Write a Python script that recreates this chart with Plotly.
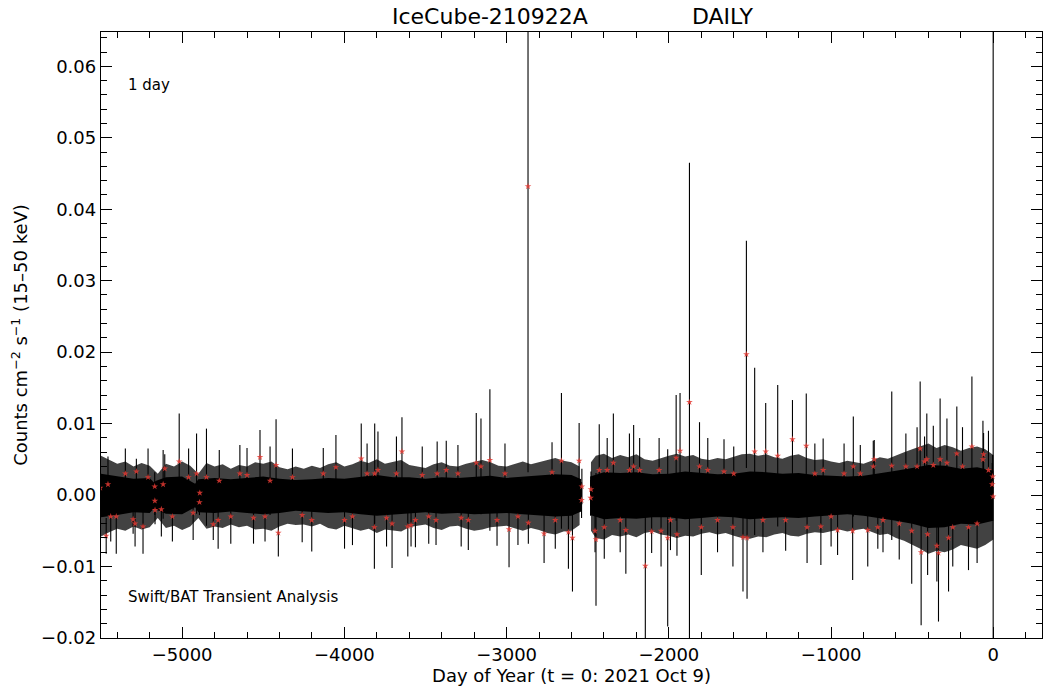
import plotly.graph_objects as go

# ---------------- data ----------------
# solid core of the dense daily band (100-day resolution, None = data gap)
core_day = [-5500, -5400, -5300, -5200, -5175, -5160, -5100, -5000, -4920, -4900,
            -4800, -4700, -4600, -4500, -4400, -4300, -4200, -4100, -4000, -3900,
            -3800, -3700, -3600, -3500, -3400, -3300, -3200, -3100, -3000, -2900,
            -2800, -2700, -2600, -2540, None,
            -2485, -2400, -2300, -2200, -2100, -2000, -1900, -1800, -1700, -1600,
            -1500, -1400, -1300, -1200, -1100, -1000, -900, -800, -700, -600,
            -500, -400, -300, -200, -100, 0]
core_hi = [0.0030, 0.0027, 0.0023, 0.0024, 0.0018, 0.0020, 0.0025, 0.0026, 0.0016, 0.0022,
           0.0024, 0.0022, 0.0024, 0.0026, 0.0023, 0.0021, 0.0022, 0.0024, 0.0023, 0.0026,
           0.0028, 0.0025, 0.0025, 0.0023, 0.0025, 0.0024, 0.0026, 0.0027, 0.0024, 0.0026,
           0.0027, 0.0029, 0.0028, 0.0022, None,
           0.0026, 0.0032, 0.0031, 0.0032, 0.0029, 0.0030, 0.0033, 0.0031, 0.0029, 0.0030,
           0.0033, 0.0032, 0.0030, 0.0031, 0.0028, 0.0027, 0.0026, 0.0027, 0.0030, 0.0034,
           0.0038, 0.0042, 0.0041, 0.0037, 0.0039, 0.0034]
core_lo = [-0.0031, -0.0028, -0.0024, -0.0025, -0.0019, -0.0021, -0.0026, -0.0027, -0.0017, -0.0024,
           -0.0025, -0.0023, -0.0025, -0.0027, -0.0025, -0.0022, -0.0023, -0.0025, -0.0024, -0.0027,
           -0.0029, -0.0027, -0.0026, -0.0024, -0.0026, -0.0025, -0.0027, -0.0026, -0.0025, -0.0027,
           -0.0029, -0.0030, -0.0029, -0.0023, None,
           -0.0028, -0.0034, -0.0032, -0.0033, -0.0031, -0.0031, -0.0034, -0.0032, -0.0030, -0.0031,
           -0.0034, -0.0032, -0.0031, -0.0032, -0.0030, -0.0028, -0.0027, -0.0029, -0.0032, -0.0036,
           -0.0040, -0.0046, -0.0045, -0.0040, -0.0041, -0.0036]

# outer fringe of the band (50-day resolution)
fringe_day = list(range(-5500, -2549, 50)) + [None, -2480] + list(range(-2450, 1, 50))
fringe_hi = [0.0055, 0.0050, 0.0044, 0.0047, 0.0040, 0.0045, 0.0041, 0.0030, 0.0044, 0.0040,
             0.0047, 0.0041, 0.0030, 0.0045, 0.0040, 0.0043, 0.0037, 0.0042, 0.0040, 0.0046,
             0.0044, 0.0047, 0.0039, 0.0036, 0.0040, 0.0037, 0.0041, 0.0038, 0.0043, 0.0046,
             0.0040, 0.0043, 0.0048, 0.0045, 0.0050, 0.0044, 0.0046, 0.0049, 0.0042, 0.0040,
             0.0038, 0.0043, 0.0046, 0.0041, 0.0040, 0.0044, 0.0047, 0.0049, 0.0046, 0.0041,
             0.0040, 0.0044, 0.0047, 0.0043, 0.0046, 0.0050, 0.0052, 0.0048, 0.0046, 0.0040,
             None, 0.0046,
             0.0055, 0.0058, 0.0052, 0.0056, 0.0053, 0.0057, 0.0050, 0.0048, 0.0052, 0.0055,
             0.0058, 0.0054, 0.0056, 0.0051, 0.0049, 0.0052, 0.0050, 0.0054, 0.0057, 0.0058,
             0.0055, 0.0057, 0.0053, 0.0051, 0.0055, 0.0057, 0.0052, 0.0049, 0.0050, 0.0047,
             0.0045, 0.0048, 0.0046, 0.0044, 0.0048, 0.0053, 0.0051, 0.0056, 0.0060, 0.0064,
             0.0068, 0.0072, 0.0066, 0.0070, 0.0067, 0.0062, 0.0066, 0.0068, 0.0064, 0.0056]
fringe_lo = [-0.0058, -0.0052, -0.0047, -0.0050, -0.0044, -0.0048, -0.0045, -0.0032, -0.0046, -0.0043,
             -0.0049, -0.0044, -0.0032, -0.0047, -0.0044, -0.0046, -0.0041, -0.0045, -0.0043, -0.0048,
             -0.0047, -0.0050, -0.0044, -0.0040, -0.0042, -0.0041, -0.0044, -0.0040, -0.0046, -0.0048,
             -0.0043, -0.0046, -0.0050, -0.0047, -0.0053, -0.0048, -0.0049, -0.0051, -0.0045, -0.0043,
             -0.0041, -0.0046, -0.0049, -0.0044, -0.0043, -0.0047, -0.0050, -0.0048, -0.0045, -0.0044,
             -0.0043, -0.0047, -0.0050, -0.0046, -0.0049, -0.0053, -0.0055, -0.0051, -0.0050, -0.0042,
             None, -0.0050,
             -0.0060, -0.0062, -0.0056, -0.0058, -0.0055, -0.0059, -0.0053, -0.0051, -0.0055, -0.0057,
             -0.0060, -0.0057, -0.0058, -0.0054, -0.0052, -0.0055, -0.0053, -0.0057, -0.0060, -0.0061,
             -0.0058, -0.0059, -0.0055, -0.0053, -0.0057, -0.0058, -0.0054, -0.0052, -0.0053, -0.0050,
             -0.0048, -0.0051, -0.0049, -0.0047, -0.0051, -0.0056, -0.0054, -0.0060, -0.0064, -0.0069,
             -0.0075, -0.0082, -0.0078, -0.0080, -0.0076, -0.0070, -0.0073, -0.0075, -0.0070, -0.0062]

# individual outlying daily points (rate and 1-sigma error)
pt_day = [-5505, -5468, -5457, -5406, -5302, -5290, -5282, -5241, -5128, -5117,
          -5107, -5018, -4932, -4911, -4850, -4808, -4778, -4771, -4644, -4520,
          -4489, -4458, -4421, -4407, -4201, -4052, -3999, -3896, -3815, -3813,
          -3793, -3706, -3679, -3645, -3609, -3589, -3562, -3435, -3428, -3372,
          -3236, -3187, -3158, -3103, -3059, -2985, -2868, -2866, -2769, -2662,
          -2619, -2594, -2553, -2455, -2449, -2429, -2398, -2342, -2265, -2243,
          -2217, -2145, -2106, -2048, -2007, -1955, -1950, -1931, -1873, -1811,
          -1800, -1605, -1600, -1543, -1522, -1518, -1471, -1403, -1329, -1238,
          -1153, -1148, -1063, -1049, -960, -867, -863, -774, -740, -734,
          -712, -626, -539, -503, -451, -445, -424, -410, -405, -348,
          -338, -328, -286, -276, -225, -153, -132, -64, -60, -1,
          -5169, -5168, -5167, -4891, -4893, -2536, -2538, -2480, -2482, -4, -7,
          -5440, -5350, -5210, -5060, -4960, -4700, -4600, -4560, -4320, -4260,
          -4130, -3950, -3860, -3740, -3520, -3480, -3300, -3280, -3010, -2930,
          -2720, -2700, -2380, -2300, -2180, -2060, -1990, -1760, -1700, -1660,
          -1420, -1280, -1100, -1000, -920, -820, -680, -580, -470, -370,
          -250, -190, -100, -30]
pt_rate = [0.0010, -0.0057, 0.0015, -0.0030, -0.0034, -0.0040, 0.0033, -0.0044, -0.0020, 0.0015,
           0.0037, 0.0047, -0.0025, 0.0030, 0.0025, -0.0041, -0.0035, 0.0020, 0.0030, 0.0053,
           -0.0030, 0.0020, 0.0042, -0.0053, -0.0035, 0.0039, -0.0035, 0.0051, -0.0045, 0.0030,
           0.0035, -0.0040, 0.0030, 0.0061, -0.0044, -0.0042, -0.0035, -0.0035, 0.0030, 0.0035,
           -0.0035, 0.0045, 0.0040, 0.0049, -0.0035, -0.0048, 0.0432, -0.0039, -0.0054, 0.0048,
           -0.0052, -0.0060, 0.0048, -0.0050, -0.0062, 0.0035, -0.0045, 0.0045, -0.0049, 0.0035,
           0.0040, -0.0099, -0.0051, -0.0050, -0.0060, 0.0052, -0.0055, 0.0062, 0.0130, 0.0040,
           -0.0045, -0.0045, 0.0030, -0.0059, 0.0197, -0.0060, 0.0061, 0.0061, 0.0055, 0.0078,
           0.0069, -0.0045, -0.0044, 0.0035, -0.0049, -0.0050, 0.0040, -0.0049, 0.0040, 0.0050,
           -0.0045, 0.0041, 0.0040, -0.0050, 0.0065, -0.0080, 0.0047, 0.0050, -0.0055, -0.0071,
           -0.0081, 0.0050, 0.0045, -0.0060, 0.0058, -0.0045, 0.0068, 0.0050, 0.0057, -0.0002,
           0.0012, -0.0008, -0.0021, 0.0003, -0.0010, 0.0012, -0.0007, 0.0008, -0.0004, 0.0026, 0.0015,
           -0.0030, 0.0030, 0.0025, -0.0030, 0.0025, -0.0030, 0.0028, -0.0032, 0.0025, -0.0028,
           0.0030, -0.0030, 0.0030, -0.0032, 0.0028, -0.0030, 0.0030, -0.0032, 0.0030, -0.0030,
           0.0032, -0.0035, 0.0035, -0.0035, 0.0035, 0.0035, -0.0035, 0.0035, -0.0035, 0.0033,
           -0.0035, -0.0035, 0.0030, -0.0030, 0.0030, 0.0030, -0.0035, -0.0040, 0.0040, 0.0042,
           -0.0045, 0.0040, -0.0040, 0.0035]
pt_err = [0.0053, 0.0025, 0.0039, 0.0052, 0.0020, 0.0032, 0.0018, 0.0038, 0.0038, 0.0048,
          0.0020, 0.0067, 0.0038, 0.0056, 0.0068, 0.0022, 0.0040, 0.0043, 0.0040, 0.0038,
          0.0035, 0.0048, 0.0064, 0.0033, 0.0044, 0.0045, 0.0040, 0.0049, 0.0058, 0.0070,
          0.0054, 0.0062, 0.0052, 0.0048, 0.0042, 0.0030, 0.0038, 0.0035, 0.0045, 0.0041,
          0.0042, 0.0070, 0.0067, 0.0099, 0.0036, 0.0053, 0.0400, 0.0029, 0.0041, 0.0095,
          0.0051, 0.0075, 0.0053, 0.0030, 0.0093, 0.0064, 0.0044, 0.0069, 0.0061, 0.0051,
          0.0058, 0.0110, 0.0030, 0.0050, 0.0124, 0.0088, 0.0030, 0.0081, 0.0335, 0.0062,
          0.0067, 0.0055, 0.0038, 0.0076, 0.0159, 0.0085, 0.0117, 0.0068, 0.0099, 0.0055,
          0.0073, 0.0050, 0.0054, 0.0044, 0.0035, 0.0069, 0.0070, 0.0051, 0.0036, 0.0027,
          0.0030, 0.0104, 0.0046, 0.0074, 0.0094, 0.0102, 0.0035, 0.0064, 0.0057, 0.0050,
          0.0096, 0.0085, 0.0062, 0.0075, 0.0066, 0.0060, 0.0098, 0.0054, 0.0030, 0.0900,
          0.0020, 0.0020, 0.0020, 0.0018, 0.0018, 0.0025, 0.0025, 0.0025, 0.0025, 0.0030, 0.0030,
          0.0035, 0.0035, 0.0040, 0.0035, 0.0040, 0.0038, 0.0038, 0.0036, 0.0040, 0.0038,
          0.0036, 0.0040, 0.0042, 0.0040, 0.0040, 0.0038, 0.0040, 0.0040, 0.0042, 0.0040,
          0.0042, 0.0040, 0.0045, 0.0045, 0.0045, 0.0045, 0.0042, 0.0045, 0.0045, 0.0045,
          0.0045, 0.0043, 0.0042, 0.0042, 0.0042, 0.0040, 0.0045, 0.0050, 0.0055, 0.0055,
          0.0055, 0.0055, 0.0055, 0.0055]

title_left = "IceCube-210922A"
title_right = "DAILY"
x_label = "Day of Year (t = 0: 2021 Oct 9)"
y_label = "Counts cm<sup>\u22122</sup> s<sup>\u22121</sup> (15\u201350 keV)"
bin_label = "1 day"
source_label = "Swift/BAT Transient Analysis"

FONT = "DejaVu Sans"

# ---------------- figure ----------------
fig = go.Figure()


def segments(xs):
    segs, cur = [], []
    for i, x in enumerate(xs):
        if x is None:
            if cur:
                segs.append(cur)
            cur = []
        else:
            cur.append(i)
    if cur:
        segs.append(cur)
    return segs


for days, lo_arr, hi_arr, col in ((fringe_day, fringe_lo, fringe_hi, "rgba(0,0,0,0.74)"),
                                  (core_day, core_lo, core_hi, "black")):
    for idx in segments(days):
        xs = [days[i] for i in idx]
        hs = [hi_arr[i] for i in idx]
        ls = [lo_arr[i] for i in idx]
        fig.add_trace(go.Scatter(
            x=xs + xs[::-1], y=hs + ls[::-1], mode="lines", fill="toself",
            fillcolor=col, line=dict(width=0), hoverinfo="skip", showlegend=False))

# error bars of the individual points
fig.add_trace(go.Scatter(
    x=pt_day, y=pt_rate, mode="markers",
    marker=dict(size=1, color="rgba(0,0,0,0)"),
    error_y=dict(type="data", array=pt_err, visible=True, color="black",
                 thickness=1.1, width=0),
    showlegend=False, hoverinfo="skip"))
# red star markers on top
fig.add_trace(go.Scatter(
    x=pt_day, y=pt_rate, mode="markers",
    marker=dict(symbol="star", size=5, color="#e33a32", opacity=0.85, line=dict(width=0)),
    showlegend=False))

axis_common = dict(
    showgrid=False, zeroline=False, showline=True, linecolor="black", linewidth=1.3,
    mirror="allticks", ticks="inside", ticklen=11, tickwidth=1.3, tickcolor="black",
    tickfont=dict(family=FONT, size=18, color="black"),
)

fig.update_xaxes(
    range=[-5500, 300], tick0=0, dtick=1000,
    minor=dict(ticks="inside", ticklen=6, tickwidth=1.1, tickcolor="black", tick0=0, dtick=200),
    title=dict(text=x_label, font=dict(family=FONT, size=18, color="black"), standoff=4),
    **axis_common)
fig.update_yaxes(
    range=[-0.02, 0.0648], tick0=0, dtick=0.01, tickformat=".2f",
    minor=dict(ticks="inside", ticklen=6, tickwidth=1.1, tickcolor="black", tick0=0, dtick=0.002),
    title=dict(text=y_label, font=dict(family=FONT, size=18, color="black"), standoff=8),
    **axis_common)

annotations = [
    dict(text=title_left, x=0.5197, y=1.0248, xref="paper", yref="paper",
         xanchor="right", yanchor="middle", showarrow=False,
         font=dict(family=FONT, size=22, color="black")),
    dict(text=title_right, x=0.6259, y=1.0248, xref="paper", yref="paper",
         xanchor="left", yanchor="middle", showarrow=False,
         font=dict(family=FONT, size=22, color="black")),
    dict(text=bin_label, x=0.0266, y=0.9125, xref="paper", yref="paper",
         xanchor="left", yanchor="middle", showarrow=False,
         font=dict(family=FONT, size=15, color="black")),
    dict(text=source_label, x=0.0266, y=0.0677, xref="paper", yref="paper",
         xanchor="left", yanchor="middle", showarrow=False,
         font=dict(family=FONT, size=15, color="black")),
]

fig.update_layout(
    width=1046, height=693, autosize=False,
    margin=dict(l=101, r=4, t=32, b=55, pad=0),
    paper_bgcolor="white", plot_bgcolor="white",
    font=dict(family=FONT, color="black"),
    annotations=annotations, showlegend=False,
)

fig.write_html("out.html")
